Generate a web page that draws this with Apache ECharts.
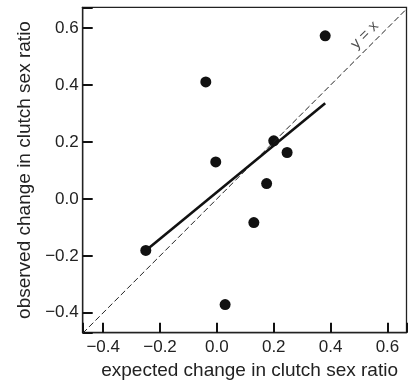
<!DOCTYPE html>
<html>
<head>
<meta charset="utf-8">
<script src="https://cdn.jsdelivr.net/npm/echarts@6/dist/echarts.min.js"></script>
<style>
  html, body { margin: 0; padding: 0; background: #fff; }
  #chart { width: 408px; height: 386px; }
</style>
</head>
<body>
<div id="chart"></div>
<script>
// expected vs observed change in clutch sex ratio
const expected = [0.381, -0.039, 0.200, 0.247, -0.004, 0.175, 0.130, -0.250, 0.029];
const observed = [0.573, 0.411, 0.204, 0.163, 0.130, 0.054, -0.083, -0.181, -0.371];
const fitX = [-0.250, 0.381];
const fitY = [-0.181, 0.336];
const ticks = [-0.4, -0.2, 0.0, 0.2, 0.4, 0.6];
const xRange = [-0.472, 0.667];
const yRange = [-0.470, 0.673];
const identityLabelAt = [0.52, 0.575];

const fmt = (v) => v.toFixed(1).replace("-", "\u2212");

const axisCommon = {
  type: "value",
  axisLine: { show: true, onZero: false, lineStyle: { color: "#222", width: 1.3 } },
  splitLine: { show: false },
  axisTick: {
    show: true,
    inside: true,
    length: 10,
    lineStyle: { color: "#111", width: 2 },
  },
  axisLabel: {
    customValues: ticks,
    formatter: fmt,
    color: "#222",
    fontSize: 17,
    fontFamily: "Liberation Sans",
  },
  nameLocation: "middle",
  nameTextStyle: { color: "#222", fontSize: 19, fontFamily: "Liberation Sans" },
};

const chart = echarts.init(document.getElementById("chart"));
chart.setOption({
  animation: false,
  grid: {
    left: 82.7,
    right: 1.5,
    top: 7.3,
    bottom: 53.3,
    show: true,
    borderColor: "#222",
    borderWidth: 1.3,
  },
  xAxis: {
    ...axisCommon,
    min: xRange[0],
    max: xRange[1],
    name: "expected change in clutch sex ratio",
    nameGap: 29,
    nameTextStyle: { ...axisCommon.nameTextStyle, padding: [0, 0, 0, 10] },
    axisLabel: { ...axisCommon.axisLabel, margin: 6 },
  },
  yAxis: {
    ...axisCommon,
    min: yRange[0],
    max: yRange[1],
    name: "observed change in clutch sex ratio",
    nameGap: 48,
    axisLabel: { ...axisCommon.axisLabel, margin: 4 },
  },
  series: [
    {
      type: "line",
      data: [
        [xRange[0], xRange[0]],
        [xRange[1], xRange[1]],
      ],
      symbol: "none",
      clip: true,
      lineStyle: { color: "#222", width: 1, type: [6, 3] },
      silent: true,
    },
    {
      type: "line",
      data: fitX.map((x, i) => [x, fitY[i]]),
      symbol: "none",
      lineStyle: { color: "#111", width: 2.6 },
    },
    {
      type: "scatter",
      data: expected.map((x, i) => [x, observed[i]]),
      symbol: "circle",
      symbolSize: 11,
      itemStyle: { color: "#111", opacity: 1 },
    },
    {
      type: "scatter",
      data: [identityLabelAt],
      symbolSize: 0,
      label: {
        show: true,
        position: "inside",
        formatter: "y = x",
        rotate: 45,
        color: "#222",
        fontSize: 15,
        fontFamily: "Liberation Sans",
      },
    },
  ],
});
</script>
</body>
</html>
